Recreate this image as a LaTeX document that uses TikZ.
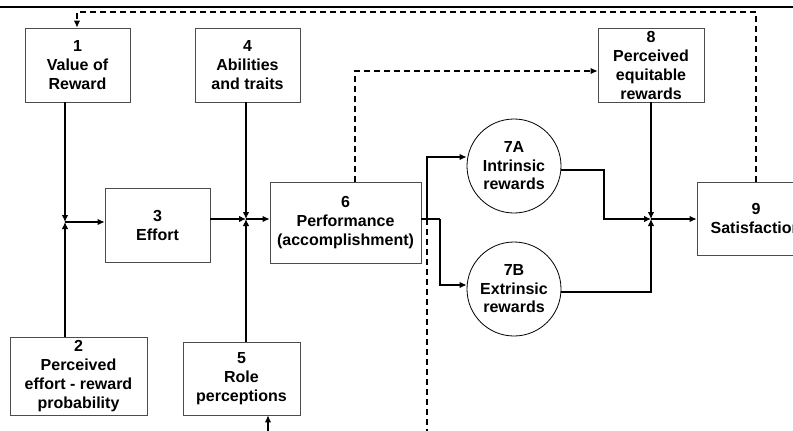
\documentclass[tikz,border=0pt]{standalone}
\usepackage{fontspec}
\setmainfont{Liberation Sans}
\usetikzlibrary{arrows.meta}
\begin{document}
\begin{tikzpicture}[x=1pt,y=-1pt,
  box/.style={draw=black!70,line width=0.9pt,align=center,inner sep=0pt,
    font=\fontsize{16}{19}\selectfont\bfseries},
  circ/.style={circle,draw=black,line width=0.8pt,align=center,inner sep=0pt,
    minimum size=94pt,font=\fontsize{16}{18.5}\selectfont\bfseries},
  conn/.style={line width=1.1pt,draw=black},
  arr/.style={conn,-{Latex[length=7pt,width=6.5pt]}},
  dconn/.style={line width=1.1pt,dash pattern=on 6pt off 4pt},
  darr/.style={dconn,-{Latex[length=7pt,width=6.5pt]}}]
\useasboundingbox (0,0) rectangle (793,431);
\clip (0,0) rectangle (793,431);
\fill[white] (0,0) rectangle (793,431);
% top rule
\coordinate (tl) at (0,7);
\coordinate (tr) at (793,7);
\draw[line width=1.2pt] (tl) -- (tr);
% boxes
\node[box,minimum width=105pt,minimum height=74pt] (b1) at (77.5,65) {1\\Value of\\Reward};
\node[box,minimum width=105pt,minimum height=74pt] (b4) at (247.5,65) {4\\Abilities\\and traits};
\node[box,minimum width=106pt,minimum height=74pt] (b8) at (651,65) {8\\Perceived\\equitable\\rewards};
\node[box,minimum width=105pt,minimum height=74pt] (b3) at (157.5,225) {3\\Effort};
\node[box,minimum width=151pt,minimum height=81pt] (b6) at (345.5,222.5) {6\\Performance\\(accomplishment)};
\node[box,minimum width=118pt,minimum height=73pt] (b9) at (756,218.5) {9\\Satisfaction};
\node[box,minimum width=137pt,minimum height=78pt] (b2) at (78.5,376) {2\\Perceived\\effort - reward\\probability};
\node[box,minimum width=117pt,minimum height=73pt] (b5) at (241.5,378.5) {5\\Role\\perceptions};
\node[circ] (a7) at (514,166) {7A\\Intrinsic\\rewards};
\node[circ] (b7) at (514,289) {7B\\Extrinsic\\rewards};
% junctions and bends
\coordinate (j1) at (65,222);
\coordinate (j2) at (246,219);
\coordinate (j3) at (651,219);
\coordinate (s1) at (440,219);
\coordinate (s2) at (427,219);
\coordinate (s3) at (427,157);
\coordinate (s4) at (440,285);
\coordinate (e1) at (604,170);
\coordinate (e2) at (604,219);
\coordinate (e3) at (651,292);
\coordinate (d0) at (355,182);
\coordinate (d1) at (355,71);
\coordinate (d2) at (756,12);
\coordinate (d3) at (77,12);
\coordinate (dbot) at (427,431);
\coordinate (bot5) at (268,431);
% feedback dashed
\draw[darr] (b9.north) -- (d2) -- (d3) -- (b1.north -| d3);
\draw[darr] (d0) -- (d1) -- (d1 -| b8.west);
\draw[dconn] (s2) -- (dbot);
% left part
\draw[arr] (b1.south -| j1) -- (j1);
\draw[arr] (b2.north -| j1) -- (j1);
\draw[arr] (j1) -- (j1 -| b3.west);
\draw[arr] (b3.east |- j2) -- (j2);
\draw[arr] (b4.south -| j2) -- (j2);
\draw[arr] (b5.north -| j2) -- (j2);
\draw[arr] (j2) -- (j2 -| b6.west);
\draw[arr] (bot5) -- (b5.south -| bot5);
% performance split
\draw[conn] (b6.east |- s1) -- (s1);
\draw[arr] (s2) -- (s3) -- (s3 -| a7.west);
\draw[arr] (s1) -- (s4) -- (s4 -| b7.west);
% rewards to satisfaction
\draw[arr] (a7.east |- e1) -- (e1) -- (e2) -- (j3);
\draw[arr] (b8.south) -- (j3);
\draw[arr] (b7.east |- e3) -- (e3) -- (j3);
\draw[arr] (j3) -- (j3 -| b9.west);
\end{tikzpicture}
\end{document}
